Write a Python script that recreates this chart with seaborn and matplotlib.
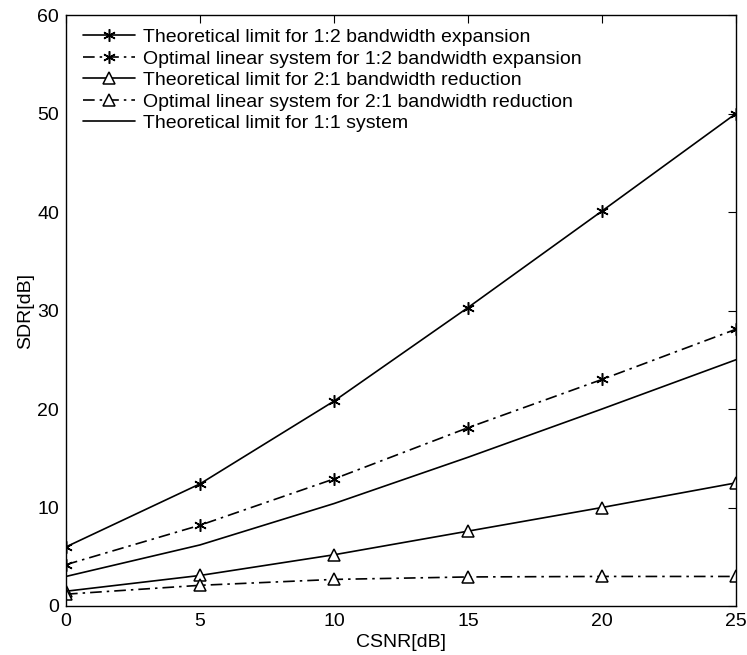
import matplotlib
matplotlib.use("Agg")
import matplotlib.pyplot as plt
import seaborn as sns
import numpy as np

csnr = [0, 5, 10, 15, 20, 25]
theo_exp = [6.0, 12.4, 20.8, 30.3, 40.1, 50.0]
lin_exp = [4.2, 8.2, 12.9, 18.1, 23.0, 28.1]
theo_red = [1.5, 3.1, 5.2, 7.6, 10.0, 12.5]
lin_red = [1.2, 2.1, 2.7, 2.95, 3.0, 3.0]
theo_11 = [3.0, 6.2, 10.4, 15.1, 20.0, 25.0]

labels = [
    "Theoretical limit for 1:2 bandwidth expansion",
    "Optimal linear system for 1:2 bandwidth expansion",
    "Theoretical limit for 2:1 bandwidth reduction",
    "Optimal linear system for 2:1 bandwidth reduction",
    "Theoretical limit for 1:1 system",
]

sns.set_style("white")
plt.rcParams['font.family'] = ['Liberation Sans', 'DejaVu Sans']
plt.rcParams['text.color'] = 'black'
plt.rcParams['axes.labelcolor'] = 'black'
FS = 14
plt.rcParams['font.size'] = FS

fig = plt.figure(figsize=(7.47, 6.55), dpi=100)
ax = fig.add_axes([66/747, 1-606/655, (736-66)/747, (606-15)/655])

dashdot = (0, (7, 3, 1.5, 3))
star = (6, 2, 0)
series = [
    (theo_exp, '-', star, 'k'),
    (lin_exp, dashdot, star, 'k'),
    (theo_red, '-', '^', 'white'),
    (lin_red, dashdot, '^', 'white'),
    (theo_11, '-', None, None),
]
for (vals, ls, mk, mfc), lab in zip(series, labels):
    kw = dict(x=csnr, y=vals, ax=ax, color='black', linewidth=1.2, label=lab)
    if mk is not None:
        kw.update(marker=mk, markersize=9, markerfacecolor=mfc,
                  markeredgecolor='black', markeredgewidth=1.1)
    sns.lineplot(**kw)
    ax.lines[-1].set_linestyle(ls)

ax.set_xlim(0, 25)
ax.set_ylim(0, 60)
ax.set_xticks([0, 5, 10, 15, 20, 25])
ax.set_yticks([0, 10, 20, 30, 40, 50, 60])
ax.set_xlabel("CSNR[dB]", fontsize=FS, labelpad=3, color='black')
ax.set_ylabel("SDR[dB]", fontsize=FS, labelpad=2, color='black')
ax.tick_params(direction='in', top=True, right=True, length=6, width=0.8,
               labelsize=FS, colors='black')
ax.tick_params(axis='x', pad=5)
ax.tick_params(axis='y', pad=5)
for s in ax.spines.values():
    s.set_color('black')
    s.set_linewidth(1.0)
    s.set_visible(True)

leg = ax.legend(loc='upper left', frameon=False, fontsize=FS, handlelength=2.7,
                handletextpad=0.4, labelspacing=0.2, borderaxespad=0.3,
                bbox_to_anchor=(0.005, 1.0))
for t in leg.get_texts():
    t.set_color('black')
fig.savefig("out.png", dpi=100)
